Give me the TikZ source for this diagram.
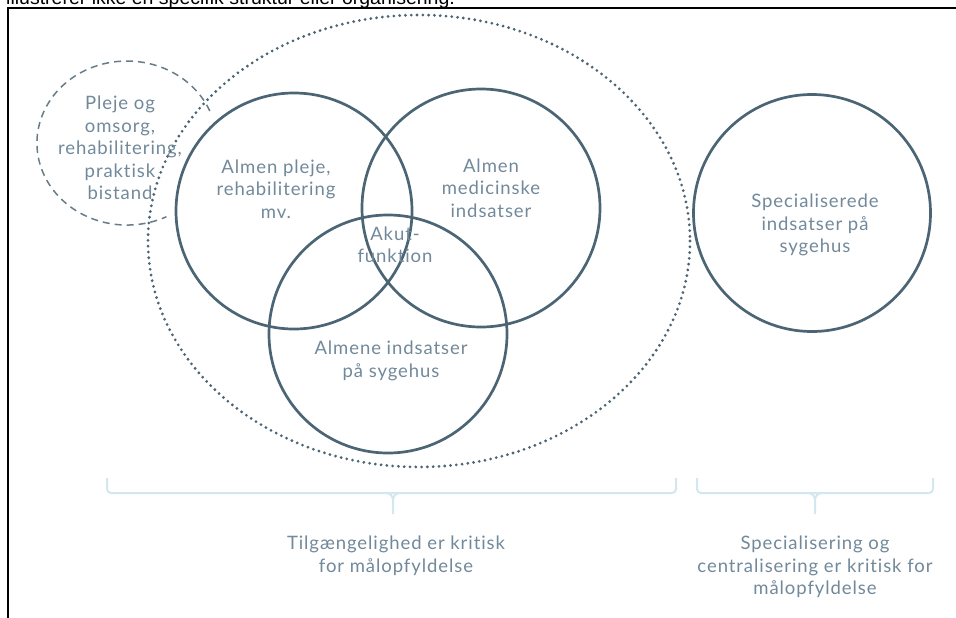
\documentclass[tikz,border=0pt]{standalone}
\usepackage{fontspec}
\setmainfont[LetterSpace=5, RawFeature=-liga]{Lato}
\newfontfamily\notefont{Liberation Sans}
\definecolor{ringcol}{HTML}{4B6574}
\definecolor{labelcol}{HTML}{71899A}
\definecolor{bracecol}{HTML}{D3E7EF}
\begin{document}
\begin{tikzpicture}[x=1pt,y=-1pt,
  ring/.style={draw=ringcol, line width=2.7pt, circle, inner sep=0pt, minimum size=#1},
  txt/.style={text=labelcol, font=\fontsize{18.5}{22.5}\selectfont, align=center, inner sep=0pt},
  dotring/.style={draw=ringcol, line width=3.1pt, line cap=round, dash pattern=on 0pt off 5.8pt},
  dashring/.style={draw=ringcol!85, line width=1.5pt, dash pattern=on 7pt off 5pt},
  bracket/.style={draw=bracecol, line width=2pt, rounded corners=4pt},
  frame/.style={draw=black, line width=2pt}]
\useasboundingbox (0,0) rectangle (956,618);
\clip (0,0) rectangle (956,618);

% caption line above the frame
\node[anchor=base west, inner sep=0pt, font=\notefont\fontsize{19.5}{22}\selectfont] (note) at (6,4.5)
  {illustrerer ikke en specifik struktur eller organisering.};

% frame
\draw[frame] (8,640) -- (8,8) -- (970,8);

% outer dotted boundary
\draw[dotring] (419,241) ellipse [x radius=271, y radius=226];

% dashed boundary around the care group
\draw[dashring] (209.8,111) arc[start angle=-23, end angle=-296, x radius=90, y radius=82];

% Venn circles
\node[ring=236pt] (pleje)   at (294,211) {};
\node[ring=238pt] (medic)   at (481,208) {};
\node[ring=238pt] (sygehus) at (388,334) {};
\node[ring=237pt] (spec)    at (812,213) {};

% circle texts
\node[txt] (tpleje) at (120,148) {Pleje og\\omsorg,\\rehabilitering,\\praktisk\\bistand};
\node[txt] (talmen) at (276,189) {Almen pleje,\\rehabilitering\\mv.};
\node[txt] (tmedic) at (491,188) {Almen\\medicinske\\indsatser};
\node[txt] (takut)  at (395,245) {Akut-\\funktion};
\node[txt] (tsyg)   at (391,361) {Almene indsatser\\på sygehus};
\node[txt] (tspec)  at (815,225) {Specialiserede\\indsatser på\\sygehus};

% brackets under the groups
\draw[bracket] (107,478) -- (107,493) -- (676,493) -- (676,478);
\draw[bracecol, line width=2pt] (386,493) to[out=0,in=90] (393,500) -- (393,514);
\draw[bracecol, line width=2pt] (400,493) to[out=180,in=90] (393,500);
\draw[bracket] (697,478) -- (697,493) -- (933,493) -- (933,478);
\draw[bracecol, line width=2pt] (808,493) to[out=0,in=90] (815,500) -- (815,514);
\draw[bracecol, line width=2pt] (822,493) to[out=180,in=90] (815,500);

% group captions
\node[txt] (tleft)  at (396,556) {Tilgængelighed er kritisk\\for målopfyldelse};
\node[txt] (tright) at (815,567) {Specialisering og\\centralisering er kritisk for\\målopfyldelse};
\end{tikzpicture}
\end{document}
